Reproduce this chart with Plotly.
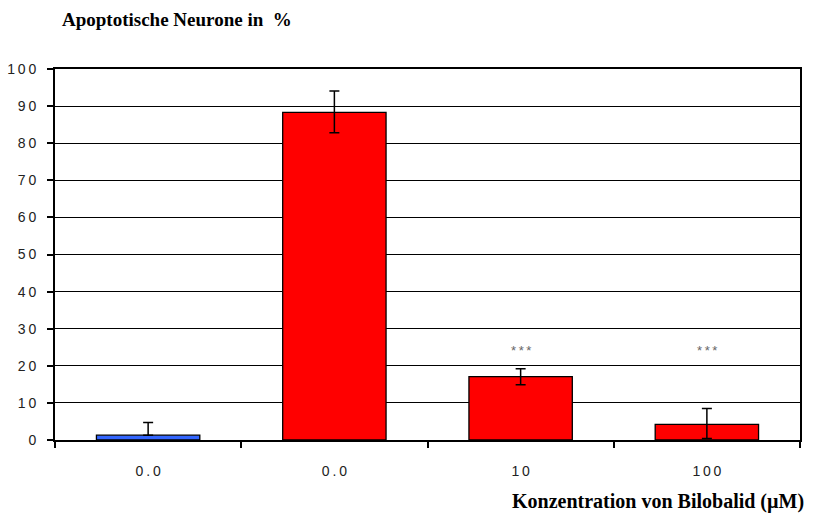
import plotly.graph_objects as go

# Bar data: apoptotic neurons (%) per Bilobalid concentration
categories = ["0.0", "0.0", "10", "100"]
values = [1.3, 88.3, 17.1, 4.2]
err_plus = [3.4, 5.8, 2.1, 4.3]
err_minus = [0.0, 5.5, 2.2, 3.8]
colors = ["#3366FF", "#FF0000", "#FF0000", "#FF0000"]
sig_labels = ["", "", "***", "***"]
sig_level = 24

y_ticks = [0, 10, 20, 30, 40, 50, 60, 70, 80, 90, 100]


def spaced(s):
    # widen the digit spacing of tick labels
    return "\u2009".join(s)


xpos = list(range(len(values)))

fig = go.Figure()
fig.add_trace(go.Bar(
    x=xpos,
    y=values,
    marker=dict(color=colors, line=dict(color="black", width=1.3)),
    width=0.555,
    error_y=dict(type="data", symmetric=False, array=err_plus, arrayminus=err_minus,
                 color="black", thickness=1.5, width=5),
    showlegend=False,
))

for x, lab in zip(xpos, sig_labels):
    if lab:
        fig.add_annotation(x=x, y=sig_level, text=spaced(lab), showarrow=False,
                           font=dict(family="Liberation Sans", size=13, color="#666666"))

fig.add_annotation(xref="paper", yref="paper", x=0.0, y=1.0, yshift=37, xshift=5,
                   xanchor="left", yanchor="bottom", showarrow=False,
                   text="<b>Apoptotische Neurone in\u2002%</b>",
                   font=dict(family="Liberation Serif", size=19, color="black"))
fig.add_annotation(xref="paper", yref="paper", x=1.0, y=0.0, yshift=-48, xshift=6,
                   xanchor="right", yanchor="top", showarrow=False,
                   text="<b>Konzentration von Bilobalid (\u00b5M)</b>",
                   font=dict(family="Liberation Serif", size=20, color="black"))

fig.update_layout(
    width=817, height=514,
    margin=dict(l=55, r=17, t=69, b=74),
    paper_bgcolor="white", plot_bgcolor="white",
    font=dict(family="Liberation Sans", size=12, color="black"),
)
fig.update_xaxes(
    range=[-0.5, 3.5], tickvals=xpos, ticktext=[spaced(c) for c in categories], ticks="",
    showgrid=False, zeroline=False, showline=True, linecolor="black", linewidth=2,
    mirror=True, tickfont=dict(size=14, color="#222222"), ticklabelstandoff=17,
    automargin=False,
    minor=dict(tick0=0.5, dtick=1, ticks="outside", ticklen=6, tickwidth=1.5,
               tickcolor="black", showgrid=False),
)
fig.update_yaxes(
    range=[0, 100], tickvals=y_ticks, ticktext=[spaced(str(v)) for v in y_ticks],
    ticks="outside", ticklen=6, tickwidth=1.5, tickcolor="black",
    showgrid=True, gridcolor="black", gridwidth=1.3,
    zeroline=False, showline=True, linecolor="black", linewidth=2, mirror=True,
    tickfont=dict(size=14, color="#222222"), ticklabelstandoff=8, automargin=False,
)

fig.write_html("out.html")
